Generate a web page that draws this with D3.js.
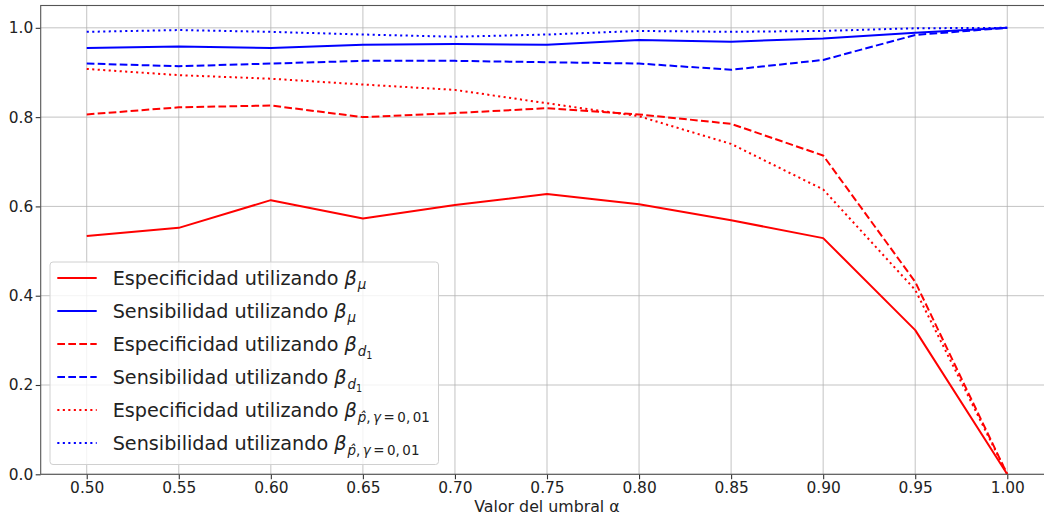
<!DOCTYPE html>
<html>
<head>
<meta charset="utf-8">
<script src="https://cdn.jsdelivr.net/npm/d3@7"></script>
<style>
  body { margin: 0; background: #fff; }
  svg { display: block; font-family: "DejaVu Sans", sans-serif; }
</style>
</head>
<body>
<svg id="chart" width="1044" height="516"></svg>
<script>
// ---- data ----
const alphas = [0.50, 0.55, 0.60, 0.65, 0.70, 0.75, 0.80, 0.85, 0.90, 0.95, 1.00];
const espMu  = [0.534, 0.552, 0.614, 0.573, 0.603, 0.628, 0.605, 0.569, 0.529, 0.323, 0.0];
const senMu  = [0.955, 0.958, 0.955, 0.962, 0.964, 0.962, 0.973, 0.969, 0.976, 0.989, 1.0];
const espD1  = [0.806, 0.822, 0.826, 0.800, 0.809, 0.820, 0.806, 0.785, 0.714, 0.431, 0.0];
const senD1  = [0.920, 0.914, 0.920, 0.926, 0.926, 0.923, 0.920, 0.906, 0.928, 0.984, 1.0];
const espP   = [0.908, 0.894, 0.886, 0.873, 0.861, 0.831, 0.802, 0.740, 0.638, 0.413, 0.0];
const senP   = [0.991, 0.995, 0.991, 0.985, 0.980, 0.985, 0.993, 0.991, 0.993, 0.999, 1.0];
const xTicks = [0.50, 0.55, 0.60, 0.65, 0.70, 0.75, 0.80, 0.85, 0.90, 0.95, 1.00];
const yTicks = [0.0, 0.2, 0.4, 0.6, 0.8, 1.0];
const seriesNames = ["espMu", "senMu", "espD1", "senD1", "espP", "senP"];
const xLabel = "Valor del umbral α";

(function () {
// ---- layout ----
const svg = d3.select("#chart");
const pL = 40.7, pR = 1053.3, pT = 5.5, pB = 474.3;
const x = d3.scaleLinear().domain([0.475, 1.025]).range([pL, pR]);
const y = d3.scaleLinear().domain([0, 1.05]).range([pB, pT]);

const styles = {
  espMu: { color: "#ff0000", dash: null },
  senMu: { color: "#0000ff", dash: null },
  espD1: { color: "#ff0000", dash: "7.7,3.3" },
  senD1: { color: "#0000ff", dash: "7.7,3.3" },
  espP:  { color: "#ff0000", dash: "2.1,3.4" },
  senP:  { color: "#0000ff", dash: "2.1,3.4" }
};
const values = { espMu, senMu, espD1, senD1, espP, senP };

// grid
const grid = svg.append("g");
grid.selectAll("line.vx").data(xTicks).join("line")
  .attr("x1", d => x(d)).attr("x2", d => x(d))
  .attr("y1", pT).attr("y2", pB)
  .attr("stroke", "#b0b0b0").attr("stroke-width", 1).attr("opacity", 0.75);
grid.selectAll("line.hy").data(yTicks).join("line")
  .attr("x1", pL).attr("x2", pR)
  .attr("y1", d => y(d)).attr("y2", d => y(d))
  .attr("stroke", "#b0b0b0").attr("stroke-width", 1).attr("opacity", 0.75);

// lines
const lineGen = d3.line().x((d, i) => x(alphas[i])).y(d => y(d));
seriesNames.forEach(name => {
  svg.append("path")
    .datum(values[name])
    .attr("d", lineGen)
    .attr("fill", "none")
    .attr("stroke", styles[name].color)
    .attr("stroke-width", 2)
    .attr("stroke-dasharray", styles[name].dash)
    .attr("stroke-linejoin", "round");
});

// axes
const xAxis = d3.axisBottom(x).tickValues(xTicks).tickFormat(d3.format(".2f"))
  .tickSize(5).tickPadding(2.5);
const yAxis = d3.axisLeft(y).tickValues(yTicks).tickFormat(d3.format(".1f"))
  .tickSize(5).tickPadding(2.5);
const gx = svg.append("g").attr("transform", `translate(0,${pB})`).call(xAxis);
const gy = svg.append("g").attr("transform", `translate(${pL},0)`).call(yAxis);
[gx, gy].forEach(g => {
  g.select(".domain").remove();
  g.selectAll(".tick line").attr("stroke", "#333").attr("stroke-width", 1.1);
  g.selectAll(".tick text").attr("font-size", 15.4).attr("fill", "#222")
    .attr("font-family", "DejaVu Sans");
});
// spines
svg.append("rect").attr("x", pL).attr("y", pT)
  .attr("width", pR - pL).attr("height", pB - pT)
  .attr("fill", "none").attr("stroke", "#555").attr("stroke-width", 1.1);

// x label
svg.append("text").attr("x", (pL + pR) / 2).attr("y", 511.5)
  .attr("text-anchor", "middle").attr("font-size", 15.8).attr("fill", "#222")
  .text(xLabel);

// ---- legend ----
const lg = svg.append("g");
lg.append("rect").attr("x", 50).attr("y", 262).attr("width", 388.5).attr("height", 202.5)
  .attr("rx", 3).attr("fill", "#fff").attr("fill-opacity", 0.8)
  .attr("stroke", "#d0d0d0").attr("stroke-width", 1);

const labels = [
  { pre: "Especificidad utilizando ", sub: "mu" },
  { pre: "Sensibilidad utilizando ", sub: "mu" },
  { pre: "Especificidad utilizando ", sub: "d1" },
  { pre: "Sensibilidad utilizando ", sub: "d1" },
  { pre: "Especificidad utilizando ", sub: "p" },
  { pre: "Sensibilidad utilizando ", sub: "p" }
];
const fs = 19.2;
const sfs = fs * 0.7;
seriesNames.forEach((name, i) => {
  const cy = 278 + i * 33;
  lg.append("line").attr("x1", 57.3).attr("x2", 96.7).attr("y1", cy).attr("y2", cy)
    .attr("stroke", styles[name].color).attr("stroke-width", 2)
    .attr("stroke-dasharray", styles[name].dash);
  const t = lg.append("text").attr("x", 112.7).attr("y", cy + 7)
    .attr("font-size", fs).attr("fill", "#222");
  t.append("tspan").text(labels[i].pre);
  t.append("tspan").attr("font-style", "italic").text("β");
  const sub = labels[i].sub;
  if (sub === "mu") {
    t.append("tspan").attr("font-style", "italic").attr("font-size", sfs)
      .attr("dy", 4).attr("dx", 1).text("μ");
  } else if (sub === "d1") {
    t.append("tspan").attr("font-style", "italic").attr("font-size", sfs)
      .attr("dy", 4.5).attr("dx", 1).text("d");
    t.append("tspan").attr("font-size", fs * 0.5)
      .attr("dy", 3).text("1");
  } else {
    t.append("tspan").attr("font-style", "italic").attr("font-size", sfs)
      .attr("dy", 5).attr("dx", 1).text("p\u0302");
    t.append("tspan").attr("font-size", sfs).text(",");
    t.append("tspan").attr("font-style", "italic").attr("font-size", sfs)
      .attr("dx", 2.5).text("γ");
    t.append("tspan").attr("font-size", sfs).attr("dx", 2.5).text("=");
    t.append("tspan").attr("font-size", sfs).attr("dx", 2.5).text("0,");
    t.append("tspan").attr("font-size", sfs).attr("dx", 2.5).text("01");
  }
});
})();
</script>
</body>
</html>
